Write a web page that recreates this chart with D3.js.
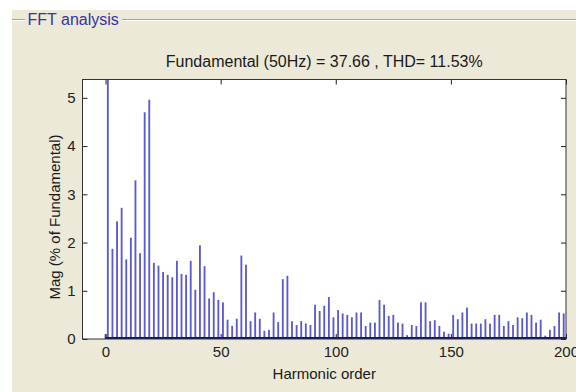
<!DOCTYPE html>
<html>
<head>
<meta charset="utf-8">
<script src="https://cdn.jsdelivr.net/npm/d3@7"></script>
<style>
    body { margin: 0; background: #ffffff; }
    svg text { font-family: "Liberation Sans", Arial, sans-serif; }
</style>
</head>
<body>
<svg id="chart" width="576" height="392"></svg>
<script>
// texts
const panelTitle = "FFT analysis";
const chartTitle = "Fundamental (50Hz) = 37.66 , THD= 11.53%";
const xLabel = "Harmonic order";
const yLabel = "Mag (% of Fundamental)";

// ticks
const xTicks = [0, 50, 100, 150, 200];
const yTicks = [0, 1, 2, 3, 4, 5];

// DC component and odd harmonics 1..199 (% of fundamental)
const dcValue = 0.1;
const orders = d3.range(1, 200, 2);
const mags = [
    100, 1.87, 2.44, 2.72, 1.65, 2.10, 3.29, 1.78, 4.70, 4.96,   // 1-19
    1.58, 1.52, 1.39, 1.33, 1.28, 1.62, 1.35, 1.33, 1.62, 1.02,  // 21-39
    1.94, 1.51, 0.84, 0.97, 0.81, 0.76, 0.40, 0.27, 0.42, 1.73,  // 41-59
    1.54, 0.37, 0.55, 0.42, 0.17, 0.19, 0.55, 0.35, 1.24, 1.31,  // 61-79
    0.37, 0.29, 0.37, 0.32, 0.29, 0.71, 0.58, 0.69, 0.87, 0.45,  // 81-99
    0.60, 0.53, 0.50, 0.45, 0.55, 0.55, 0.27, 0.34, 0.34, 0.81,  // 101-119
    0.71, 0.48, 0.50, 0.34, 0.32, 0.08, 0.29, 0.27, 0.76, 0.76,  // 121-139
    0.37, 0.39, 0.27, 0.15, 0.11, 0.50, 0.41, 0.55, 0.65, 0.32,  // 141-159
    0.32, 0.32, 0.41, 0.32, 0.50, 0.50, 0.27, 0.37, 0.29, 0.45,  // 161-179
    0.43, 0.55, 0.50, 0.34, 0.40, 0.07, 0.19, 0.27, 0.55, 0.53   // 181-199
];

const barData = [{ h: 0, v: dcValue }].concat(orders.map((h, i) => ({ h: h, v: mags[i] })));

const svg = d3.select("#chart");
const attr_area = {
    left: 82.5,
    right: 566,
    top: 79.5,
    bottom: 339
};

// panel background (group box)
function drawPanel() {
    svg.append("rect")
        .attr("x", 12).attr("y", 10)
        .attr("width", 576 - 12).attr("height", 392 - 10)
        .style("fill", "#ece9d8");

    const lines = [[12, 25], [122, 576]];
    lines.forEach(l => {
        svg.append("line")
            .attr("x1", l[0]).attr("x2", l[1])
            .attr("y1", 19.5).attr("y2", 19.5)
            .style("stroke", "#a8a595");
        svg.append("line")
            .attr("x1", l[0]).attr("x2", l[1])
            .attr("y1", 20.5).attr("y2", 20.5)
            .style("stroke", "#ffffff");
    });

    svg.append("text")
        .attr("x", 27.5).attr("y", 24.5)
        .style("font-size", "16px")
        .style("fill", "#3434a6")
        .text(panelTitle);
}

function createScales() {
    const scaleX = d3.scaleLinear()
        .domain([-10, 200])
        .range([attr_area.left, attr_area.right]);
    const scaleY = d3.scaleLinear()
        .domain([0, 5.38])
        .range([attr_area.bottom, attr_area.top]);
    return [scaleX, scaleY];
}

function drawBars(scaleX, scaleY) {
    svg.append("clipPath")
        .attr("id", "plotClip")
        .append("rect")
        .attr("x", attr_area.left).attr("y", attr_area.top)
        .attr("width", attr_area.right - attr_area.left)
        .attr("height", attr_area.bottom - attr_area.top);

    const w = scaleX(0.8) - scaleX(0);
    svg.append("g")
        .attr("clip-path", "url(#plotClip)")
        .selectAll("rect")
        .data(barData)
        .join("rect")
        .attr("x", d => scaleX(d.h) - w / 2)
        .attr("y", d => scaleY(d.v))
        .attr("width", w)
        .attr("height", d => scaleY(0) - scaleY(d.v))
        .style("fill", "#5a5ad0");

    // even harmonics are near zero and merge into a dark base line
    svg.append("line")
        .attr("x1", scaleX(0)).attr("x2", scaleX(200))
        .attr("y1", scaleY(0) - 1).attr("y2", scaleY(0) - 1)
        .style("stroke", "#12127e")
        .style("stroke-width", 2);
}

function drawAxes(scaleX, scaleY) {
    const tickLen = -5;

    const gx = svg.append("g")
        .attr("transform", `translate(0, ${attr_area.bottom})`)
        .call(d3.axisBottom(scaleX).tickValues(xTicks).tickSizeInner(tickLen).tickSizeOuter(0).tickPadding(7));
    const gy = svg.append("g")
        .attr("transform", `translate(${attr_area.left}, 0)`)
        .call(d3.axisLeft(scaleY).tickValues(yTicks).tickFormat(d3.format("d"))
            .tickSizeInner(tickLen).tickSizeOuter(0).tickPadding(7));
    const gt = svg.append("g")
        .attr("transform", `translate(0, ${attr_area.top})`)
        .call(d3.axisTop(scaleX).tickValues(xTicks).tickSizeInner(tickLen).tickSizeOuter(0).tickFormat(""));
    const gr = svg.append("g")
        .attr("transform", `translate(${attr_area.right}, 0)`)
        .call(d3.axisRight(scaleY).tickValues(yTicks).tickSizeInner(tickLen).tickSizeOuter(0).tickFormat(""));

    [gx, gy, gt, gr].forEach(g => {
        g.select(".domain").remove();
        g.selectAll("line").style("stroke", "#222222");
        g.selectAll("text")
            .style("font-size", "15px")
            .style("font-family", "'Liberation Sans', Arial, sans-serif")
            .style("fill", "#222222");
    });

    // frame
    svg.append("rect")
        .attr("x", attr_area.left).attr("y", attr_area.top)
        .attr("width", attr_area.right - attr_area.left)
        .attr("height", attr_area.bottom - attr_area.top)
        .style("fill", "none")
        .style("stroke", "#333333");
}

function drawTexts() {
    const cx = (attr_area.left + attr_area.right) / 2;
    svg.append("text")
        .attr("x", cx).attr("y", 67)
        .attr("text-anchor", "middle")
        .style("font-size", "16px")
        .style("fill", "#1a1a1a")
        .text(chartTitle);

    svg.append("text")
        .attr("x", cx).attr("y", 379)
        .attr("text-anchor", "middle")
        .style("font-size", "15px")
        .style("fill", "#1a1a1a")
        .text(xLabel);

    svg.append("text")
        .attr("transform", "translate(59.5, 217) rotate(-90)")
        .attr("text-anchor", "middle")
        .style("font-size", "15px")
        .style("fill", "#1a1a1a")
        .text(yLabel);
}

drawPanel();
const [scX, scY] = createScales();
svg.append("rect")
    .attr("x", attr_area.left).attr("y", attr_area.top)
    .attr("width", attr_area.right - attr_area.left)
    .attr("height", attr_area.bottom - attr_area.top)
    .style("fill", "#ffffff");
drawBars(scX, scY);
drawAxes(scX, scY);
drawTexts();
</script>
</body>
</html>
